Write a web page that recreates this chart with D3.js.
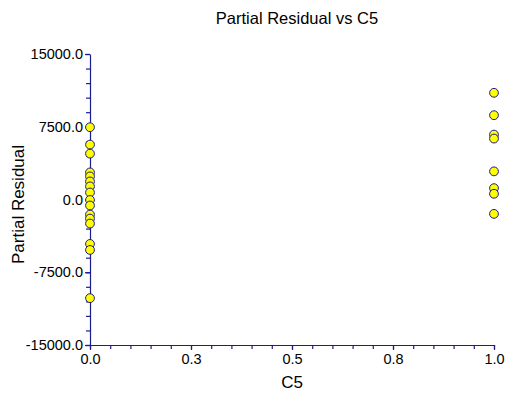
<!DOCTYPE html>
<html>
<head>
<meta charset="utf-8">
<script src="https://cdn.jsdelivr.net/npm/d3@7"></script>
<style>
  html, body { margin: 0; padding: 0; background: #fff; }
  svg { display: block; font-family: Arial, "Liberation Sans", sans-serif; }
</style>
</head>
<body>
<svg id="chart" width="509" height="396"></svg>
<script>
// Partial residuals for C5 (binary predictor: 0 or 1)
const c5Values = [0, 0, 0, 0, 0, 0, 0, 0, 0, 0, 0, 0, 0, 0, 0, 0,
                  1, 1, 1, 1, 1, 1, 1, 1];
const residualValues = [7450, 5660, 4730, 2790, 2380, 1860, 1350, 720, -50, -620, -1550, -1970, -2480, -4580, -5200, -10170,
                        11000, 8690, 6690, 6280, 2900, 1170, 590, -1480];

const xTickValues = [0, 0.25, 0.5, 0.75, 1.0];
const xTickLabels = ["0.0", "0.3", "0.5", "0.8", "1.0"];
const yTickValues = [-15000, -7500, 0, 7500, 15000];
const yTickLabels = ["-15000.0", "-7500.0", "0.0", "7500.0", "15000.0"];
const xMinorStep = 0.05;
const yMinorStep = 1500;

const title = "Partial Residual vs C5";
const xTitle = "C5";
const yTitle = "Partial Residual";

const axisColor = "#1c1c8e";
const fontFamily = "Arial, 'Liberation Sans', sans-serif";
const margin = { left: 90, right: 15, top: 54, bottom: 51 };
const W = 509, H = 396;

const svg = d3.select("#chart");
const x = d3.scaleLinear().domain([0, 1]).range([margin.left, W - margin.right]);
const y = d3.scaleLinear().domain([-15000, 15000]).range([H - margin.bottom, margin.top]);

// Minor ticks
const xMinor = d3.range(0, 1 + 1e-9, xMinorStep);
const yMinor = d3.range(-15000, 15000 + 1e-6, yMinorStep);

const xAxis = svg.append("g")
  .attr("transform", `translate(0,${y(-15000)})`)
  .call(d3.axisBottom(x).tickValues(xMinor).tickSize(4).tickFormat("").tickSizeOuter(0));
const yAxis = svg.append("g")
  .attr("transform", `translate(${x(0)},0)`)
  .call(d3.axisLeft(y).tickValues(yMinor).tickSize(4).tickFormat("").tickSizeOuter(0));

[xAxis, yAxis].forEach(g => {
  g.selectAll("path, line").attr("stroke", axisColor).attr("stroke-width", 1.2);
});

// Major ticks with labels
svg.append("g")
  .attr("transform", `translate(0,${y(-15000)})`)
  .call(d3.axisBottom(x).tickValues(xTickValues).tickSize(5)
    .tickFormat((d, i) => xTickLabels[i]).tickSizeOuter(0))
  .call(g => g.select(".domain").remove())
  .call(g => g.selectAll("line").attr("stroke", axisColor).attr("stroke-width", 1.2))
  .call(g => g.selectAll("text").attr("fill", "#000").attr("font-size", 14.5)
    .attr("font-family", fontFamily).attr("y", 9));

svg.append("g")
  .attr("transform", `translate(${x(0)},0)`)
  .call(d3.axisLeft(y).tickValues(yTickValues).tickSize(5)
    .tickFormat((d, i) => yTickLabels[i]).tickSizeOuter(0))
  .call(g => g.select(".domain").remove())
  .call(g => g.selectAll("line").attr("stroke", axisColor).attr("stroke-width", 1.2))
  .call(g => g.selectAll("text").attr("fill", "#000").attr("font-size", 14.5)
    .attr("font-family", fontFamily).attr("x", -7));

// Points
svg.append("g")
  .selectAll("circle")
  .data(c5Values.map((c, i) => ({ c, r: residualValues[i] })))
  .join("circle")
  .attr("cx", d => x(d.c))
  .attr("cy", d => y(d.r))
  .attr("r", 4.4)
  .attr("fill", "#ffff00")
  .attr("stroke", axisColor)
  .attr("stroke-width", 1);

// Titles
svg.append("text")
  .attr("x", 297).attr("y", 24)
  .attr("text-anchor", "middle")
  .attr("font-size", 16.5)
  .attr("fill", "#000")
  .text(title);

svg.append("text")
  .attr("x", (x(0) + x(1)) / 2).attr("y", 388)
  .attr("text-anchor", "middle")
  .attr("font-size", 17)
  .attr("fill", "#000")
  .text(xTitle);

svg.append("text")
  .attr("transform", `translate(24,${(y(-15000) + y(15000)) / 2 + 5}) rotate(-90)`)
  .attr("text-anchor", "middle")
  .attr("font-size", 17)
  .attr("fill", "#000")
  .text(yTitle);
</script>
</body>
</html>
